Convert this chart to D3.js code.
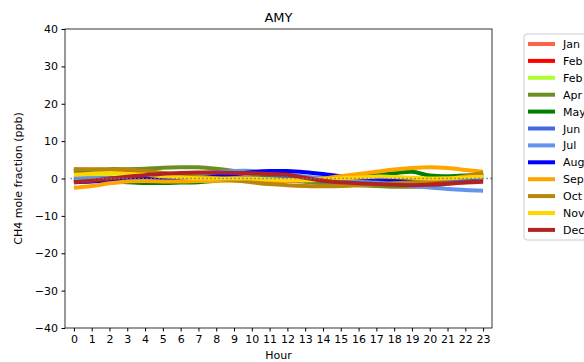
<!DOCTYPE html>
<html>
<head>
<meta charset="utf-8">
<script src="https://cdn.jsdelivr.net/npm/d3@7"></script>
<style>
  body { margin: 0; background: #fff; }
  text { font-family: "DejaVu Sans", sans-serif; fill: #000; }
</style>
</head>
<body>
<script>
const hours = d3.range(0, 24);
const monthNames = ["Jan", "Feb", "Feb", "Apr", "May", "Jun", "Jul", "Aug", "Sep", "Oct", "Nov", "Dec"];
const monthColors = ["tomato", "red", "greenyellow", "olivedrab", "green", "royalblue",
                     "cornflowerblue", "blue", "orange", "darkgoldenrod", "gold", "firebrick"];

// diurnal anomaly per month, ppb, hours 0..23
const jan = [2.5, 2.3, 2.0, 1.8, 1.5, 1.2, 1.0, 0.8, 0.5, 0.2, 0.0, -0.3, -0.6, -0.9, -1.2, -1.4, -1.6, -1.8, -2.0, -2.0, -1.8, -1.4, -1.0, -0.6];
const feb = [2.0, 2.0, 1.8, 1.6, 1.4, 1.2, 1.0, 0.8, 0.6, 0.4, 0.2, 0.0, -0.2, -0.5, -0.8, -1.0, -1.2, -1.4, -1.5, -1.5, -1.3, -1.0, -0.6, -0.2];
const feb2 = [0.5, 0.5, 0.4, 0.3, 0.2, 0.0, -0.2, -0.3, -0.4, -0.4, -0.3, -0.2, -0.1, 0.0, 0.0, -0.1, -0.3, -0.5, -0.5, -0.4, -0.2, 0.0, 0.2, 0.3];
const apr = [2.0, 2.2, 2.5, 2.5, 2.6, 2.9, 3.0, 3.0, 2.6, 2.0, 1.2, 0.5, -0.2, -0.8, -1.2, -1.5, -1.8, -2.0, -2.2, -2.2, -2.0, -1.2, 0.0, 1.5];
const may = [-0.5, -0.6, -0.8, -1.0, -1.2, -1.2, -1.1, -1.0, -0.6, -0.2, 0.0, 0.0, 0.0, 0.0, 0.0, 0.2, 0.5, 0.9, 1.4, 1.8, 0.8, 0.6, 0.8, 1.0];
const jun = [0.0, 0.0, 0.1, 0.2, 0.3, 0.4, 0.4, 0.4, 0.3, 0.2, 0.1, 0.0, 0.0, -0.1, -0.2, -0.3, -0.4, -0.5, -0.5, -0.4, -0.3, -0.2, -0.1, 0.0];
const jul = [0.0, 0.0, 0.1, 0.3, 0.5, 0.8, 1.1, 1.4, 1.7, 2.0, 2.0, 1.6, 1.0, 0.5, 0.0, -0.4, -0.8, -1.2, -1.6, -2.0, -2.4, -2.8, -3.1, -3.3];
const aug = [-1.0, -0.8, -0.5, -0.2, 0.0, 0.0, 0.0, 0.1, 0.6, 1.2, 1.7, 2.0, 2.0, 1.7, 1.2, 0.6, 0.2, 0.0, -0.3, -0.4, -0.3, 0.0, 0.3, 0.5];
const sep = [-2.5, -2.0, -1.3, -0.8, -0.7, -0.8, -0.8, -0.7, -0.6, -0.6, -0.7, -0.8, -0.6, -0.3, 0.0, 0.6, 1.2, 1.8, 2.4, 2.8, 3.0, 2.8, 2.3, 1.8];
const oct = [2.5, 2.5, 2.4, 2.4, 2.0, 1.5, 1.0, 0.5, 0.0, -0.5, -1.0, -1.5, -1.8, -2.0, -2.1, -2.0, -1.8, -1.6, -1.3, -1.0, -0.6, -0.1, 0.6, 1.5];
const nov = [1.0, 1.3, 1.5, 1.3, 1.0, 0.6, 0.3, 0.1, 0.0, 0.0, 0.0, -0.2, -0.4, -0.5, -0.3, 0.0, 0.3, 0.5, 0.4, 0.2, 0.0, 0.1, 0.3, 0.5];
const dec = [-1.0, -0.6, 0.0, 0.5, 0.9, 1.3, 1.5, 1.6, 1.6, 1.5, 1.4, 1.2, 1.0, 0.2, -0.6, -1.0, -1.3, -1.5, -1.7, -1.8, -1.7, -1.4, -1.1, -0.9];
const monthSeries = [jan, feb, feb2, apr, may, jun, jul, aug, sep, oct, nov, dec];

const yTicks = [-40, -30, -20, -10, 0, 10, 20, 30, 40];

const W = 584, H = 362;
const margin = {left: 65, right: 92, top: 29, bottom: 34};

const svg = d3.select("body").append("svg")
    .attr("width", W)
    .attr("height", H);

const x = d3.scaleLinear()
    .domain([-0.5, 23.5])
    .range([margin.left, W - margin.right]);

const y = d3.scaleLinear()
    .domain([-40, 40])
    .range([H - margin.bottom, margin.top]);

// lines
const line = d3.line()
    .x((d, i) => x(hours[i]))
    .y(d => y(d))
    .curve(d3.curveCatmullRom);

svg.append("g")
    .selectAll("path")
    .data(monthSeries)
    .enter()
    .append("path")
    .attr("d", line)
    .attr("fill", "none")
    .attr("stroke", (d, i) => monthColors[i])
    .attr("stroke-width", 4);

// zero line
svg.append("line")
    .attr("x1", x(-0.2))
    .attr("x2", x(23.6))
    .attr("y1", y(0))
    .attr("y2", y(0))
    .attr("stroke", "gray")
    .attr("stroke-width", 1.5)
    .attr("stroke-dasharray", "1.5,2.5");

// axes
const xAxis = svg.append("g")
    .attr("transform", `translate(0,${H - margin.bottom})`)
    .call(d3.axisBottom(x).tickValues(hours).tickSize(3.5).tickPadding(3.5));

const yAxis = svg.append("g")
    .attr("transform", `translate(${margin.left},0)`)
    .call(d3.axisLeft(y).tickValues(yTicks).tickSize(3.5).tickPadding(3.5));

[xAxis, yAxis].forEach(g => {
    g.selectAll("text").style("font-size", "11px").style("font-family", "DejaVu Sans");
    g.select(".domain").remove();
});

// frame
svg.append("rect")
    .attr("x", margin.left)
    .attr("y", margin.top)
    .attr("width", W - margin.left - margin.right)
    .attr("height", H - margin.top - margin.bottom)
    .attr("fill", "none")
    .attr("stroke", "#000")
    .attr("stroke-width", 0.8);

// labels
svg.append("text")
    .attr("x", (margin.left + W - margin.right) / 2)
    .attr("y", 22)
    .attr("text-anchor", "middle")
    .style("font-size", "13px")
    .text("AMY");

svg.append("text")
    .attr("x", (margin.left + W - margin.right) / 2)
    .attr("y", 359)
    .attr("text-anchor", "middle")
    .style("font-size", "11px")
    .text("Hour");

svg.append("text")
    .attr("transform", `translate(22,${(margin.top + H - margin.bottom) / 2}) rotate(-90)`)
    .attr("text-anchor", "middle")
    .style("font-size", "11px")
    .text("CH4 mole fraction (ppb)");

// legend
const legend = svg.append("g").attr("transform", "translate(524,34)");

legend.append("rect")
    .attr("x", 0)
    .attr("y", 0)
    .attr("width", 80)
    .attr("height", 206)
    .attr("rx", 3)
    .attr("fill", "#fff")
    .attr("stroke", "#ccc")
    .attr("stroke-width", 1);

const items = legend.selectAll(".item")
    .data(monthNames)
    .enter()
    .append("g")
    .attr("transform", (d, i) => `translate(0,${10 + i * 16.9})`);

items.append("line")
    .attr("x1", 4)
    .attr("x2", 31)
    .attr("y1", 0)
    .attr("y2", 0)
    .attr("stroke", (d, i) => monthColors[i])
    .attr("stroke-width", 4);

items.append("text")
    .attr("x", 39)
    .attr("y", 4)
    .style("font-size", "11px")
    .text(d => d);
</script>
</body>
</html>
